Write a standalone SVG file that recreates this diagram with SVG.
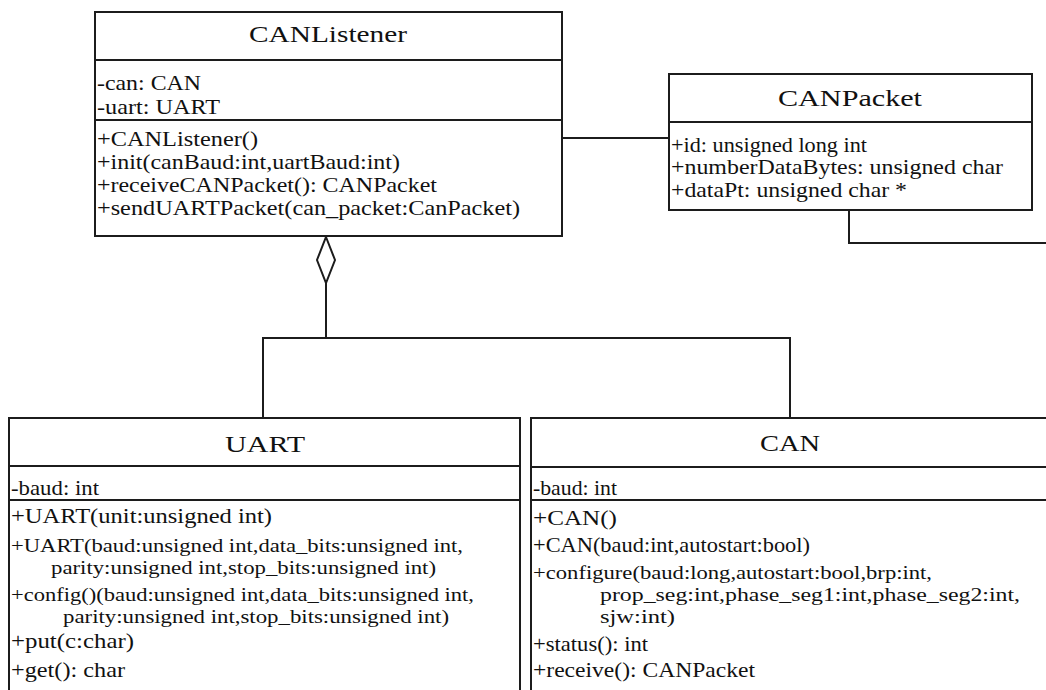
<svg xmlns="http://www.w3.org/2000/svg" width="1046" height="690" viewBox="0 0 1046 690" font-family="Liberation Serif, Times New Roman, DejaVu Serif, serif">
  <style>
    .box{fill:#fff;stroke:#1c1c1c;stroke-width:2}
    .sep{stroke:#1c1c1c;stroke-width:2}
    .ln{fill:none;stroke:#1c1c1c;stroke-width:2}
    .agg{fill:#fff;stroke:#1c1c1c;stroke-width:2}
    text{fill:#111}
    .ti{font-size:24px;text-anchor:middle}
    .m{font-size:21px}
    .w{font-size:19px}
  </style>
  <rect width="1046" height="690" fill="#fff"/>

  <!-- relationships -->
  <g id="connectors">
    <line class="ln" x1="562" y1="138" x2="669" y2="138"/>
    <polyline class="ln" points="849,210 849,243 1046,243"/>
    <polyline class="ln" points="326,283 326,338"/>
    <polyline class="ln" points="263,418 263,338 790,338 790,418"/>
    <polygon class="agg" points="326,237 335,260 326,283 317,260"/>
  </g>

  <g id="CANListener">
    <rect class="box" x="95" y="12" width="467" height="224"/>
    <line class="sep" x1="95" y1="60" x2="562" y2="60"/>
    <line class="sep" x1="95" y1="120" x2="562" y2="120"/>
    <text class="ti" x="328" y="42" textLength="158" lengthAdjust="spacingAndGlyphs">CANListener</text>
    <text class="m" x="97" y="90" textLength="104" lengthAdjust="spacingAndGlyphs">-can: CAN</text>
    <text class="m" x="97" y="114" textLength="123" lengthAdjust="spacingAndGlyphs">-uart: UART</text>
    <text class="m" x="97" y="146" textLength="161" lengthAdjust="spacingAndGlyphs">+CANListener()</text>
    <text class="m" x="97" y="169" textLength="303" lengthAdjust="spacingAndGlyphs">+init(canBaud:int,uartBaud:int)</text>
    <text class="m" x="97" y="192" textLength="340" lengthAdjust="spacingAndGlyphs">+receiveCANPacket(): CANPacket</text>
    <text class="m" x="97" y="215" textLength="423" lengthAdjust="spacingAndGlyphs">+sendUARTPacket(can_packet:CanPacket)</text>
  </g>

  <g id="CANPacket">
    <rect class="box" x="669" y="74" width="363" height="136"/>
    <line class="sep" x1="669" y1="122" x2="1032" y2="122"/>
    <text class="ti" x="850" y="106" textLength="144" lengthAdjust="spacingAndGlyphs">CANPacket</text>
    <text class="m" x="671" y="152" textLength="196" lengthAdjust="spacingAndGlyphs">+id: unsigned long int</text>
    <text class="m" x="671" y="174" textLength="332" lengthAdjust="spacingAndGlyphs">+numberDataBytes: unsigned char</text>
    <text class="m" x="671" y="197" textLength="236" lengthAdjust="spacingAndGlyphs">+dataPt: unsigned char *</text>
  </g>

  <g id="UART">
    <rect class="box" x="9" y="418" width="511" height="290"/>
    <line class="sep" x1="9" y1="466" x2="520" y2="466"/>
    <line class="sep" x1="9" y1="500" x2="520" y2="500"/>
    <text class="ti" x="265" y="452" textLength="80" lengthAdjust="spacingAndGlyphs">UART</text>
    <text class="m" x="11" y="495" textLength="88" lengthAdjust="spacingAndGlyphs">-baud: int</text>
    <text class="m" x="11" y="523" textLength="261" lengthAdjust="spacingAndGlyphs">+UART(unit:unsigned int)</text>
    <text class="w" x="11" y="552" textLength="452" lengthAdjust="spacingAndGlyphs">+UART(baud:unsigned int,data_bits:unsigned int,</text>
    <text class="w" x="51" y="574" textLength="385" lengthAdjust="spacingAndGlyphs">parity:unsigned int,stop_bits:unsigned int)</text>
    <text class="w" x="11" y="601" textLength="463" lengthAdjust="spacingAndGlyphs">+config()(baud:unsigned int,data_bits:unsigned int,</text>
    <text class="w" x="63" y="623" textLength="386" lengthAdjust="spacingAndGlyphs">parity:unsigned int,stop_bits:unsigned int)</text>
    <text class="m" x="11" y="648" textLength="123" lengthAdjust="spacingAndGlyphs">+put(c:char)</text>
    <text class="m" x="11" y="677" textLength="114" lengthAdjust="spacingAndGlyphs">+get(): char</text>
  </g>

  <g id="CAN">
    <rect class="box" x="531" y="418" width="520" height="290"/>
    <line class="sep" x1="531" y1="467" x2="1051" y2="467"/>
    <line class="sep" x1="531" y1="500" x2="1051" y2="500"/>
    <text class="ti" x="790" y="451" textLength="60" lengthAdjust="spacingAndGlyphs">CAN</text>
    <text class="m" x="533" y="495" textLength="84" lengthAdjust="spacingAndGlyphs">-baud: int</text>
    <text class="m" x="533" y="525" textLength="84" lengthAdjust="spacingAndGlyphs">+CAN()</text>
    <text class="m" x="533" y="552" textLength="277" lengthAdjust="spacingAndGlyphs">+CAN(baud:int,autostart:bool)</text>
    <text class="w" x="533" y="579" textLength="399" lengthAdjust="spacingAndGlyphs">+configure(baud:long,autostart:bool,brp:int,</text>
    <text class="w" x="600" y="601" textLength="420" lengthAdjust="spacingAndGlyphs">prop_seg:int,phase_seg1:int,phase_seg2:int,</text>
    <text class="w" x="600" y="623" textLength="75" lengthAdjust="spacingAndGlyphs">sjw:int)</text>
    <text class="m" x="533" y="651" textLength="115" lengthAdjust="spacingAndGlyphs">+status(): int</text>
    <text class="m" x="533" y="677" textLength="222" lengthAdjust="spacingAndGlyphs">+receive(): CANPacket</text>
  </g>
</svg>
